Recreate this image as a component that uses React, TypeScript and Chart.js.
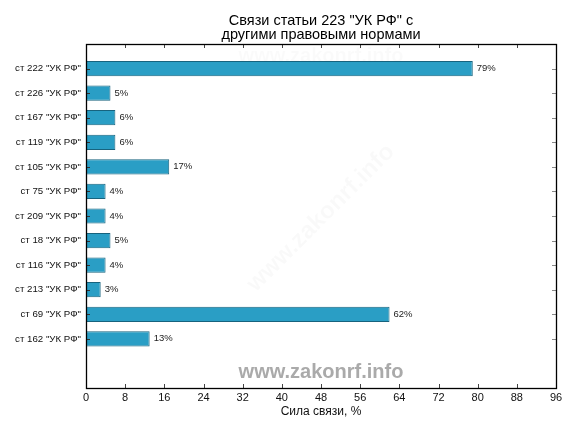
import React, { useEffect, useRef } from "react";
import { Chart, registerables } from "chart.js";

Chart.register(...registerables);

const titleLines = ['Связи статьи 223 "УК РФ" с', "другими правовыми нормами"];
const categories = [
  'ст 222 "УК РФ"',
  'ст 226 "УК РФ"',
  'ст 167 "УК РФ"',
  'ст 119 "УК РФ"',
  'ст 105 "УК РФ"',
  'ст 75 "УК РФ"',
  'ст 209 "УК РФ"',
  'ст 18 "УК РФ"',
  'ст 116 "УК РФ"',
  'ст 213 "УК РФ"',
  'ст 69 "УК РФ"',
  'ст 162 "УК РФ"',
];
const strengths = [79, 5, 6, 6, 17, 4, 4, 5, 4, 3, 62, 13];
const xMin = 0;
const xMax = 96;
const xStep = 8;
const xTitle = "Сила связи, %";
const watermark = "www.zakonrf.info";

const FONT = '"Liberation Sans", Arial, sans-serif';

export default function App() {
  const ref = useRef<HTMLCanvasElement | null>(null);

  useEffect(() => {
    document.body.style.margin = "0";
    const canvas = ref.current;
    if (!canvas) return;

    const labels = ["", ...categories, "", ""];
    const values: (number | null)[] = [null, ...strengths, null, null];

    const decor = {
      id: "decor",
      beforeDatasetsDraw(chart: any) {
        const { ctx, chartArea } = chart;
        const { left, right, top, bottom } = chartArea;
        const cx = (left + right) / 2;
        ctx.save();
        ctx.textAlign = "center";
        ctx.textBaseline = "middle";
        // faint top watermark
        ctx.font = `bold 20px ${FONT}`;
        ctx.fillStyle = "rgba(0,0,0,0.018)";
        ctx.fillText(watermark, cx, top + 12);
        // faint diagonal watermark
        ctx.save();
        ctx.translate(cx, (top + bottom) / 2 + 2);
        ctx.rotate(-Math.PI / 4);
        ctx.font = `bold 24px ${FONT}`;
        ctx.fillStyle = "rgba(0,0,0,0.022)";
        ctx.fillText(watermark, 0, 0);
        ctx.restore();
        // bottom watermark
        ctx.font = `bold 20px ${FONT}`;
        ctx.fillStyle = "#aaaaaa";
        ctx.fillText(watermark, cx, bottom - 16);
        ctx.restore();
      },
      afterDatasetsDraw(chart: any) {
        const { ctx, chartArea, scales } = chart;
        const { left, right, top, bottom } = chartArea;
        const xs = scales.x;
        const ys = scales.y;
        ctx.save();
        // value labels
        const meta = chart.getDatasetMeta(0);
        ctx.font = `9.5px ${FONT}`;
        ctx.fillStyle = "#222";
        ctx.textAlign = "left";
        ctx.textBaseline = "middle";
        meta.data.forEach((el: any, i: number) => {
          const v = values[i];
          if (v == null) return;
          ctx.fillText(`${v}%`, el.x + 4, el.y);
        });
        // tick marks (inward)
        ctx.lineWidth = 1;
        xs.ticks.forEach((t: any) => {
          const px = Math.round(xs.getPixelForValue(t.value)) + 0.5;
          ctx.strokeStyle = "#444";
          ctx.beginPath();
          ctx.moveTo(px, top);
          ctx.lineTo(px, top + 4);
          ctx.moveTo(px, bottom);
          ctx.lineTo(px, bottom - 4);
          ctx.stroke();
        });
        labels.forEach((lab, i) => {
          if (!lab) return;
          const py = Math.round(ys.getPixelForValue(i)) + 0.5;
          ctx.strokeStyle = "#333";
          ctx.beginPath();
          ctx.moveTo(left, py);
          ctx.lineTo(left + 4, py);
          ctx.stroke();
          ctx.strokeStyle = "#888";
          ctx.beginPath();
          ctx.moveTo(right, py);
          ctx.lineTo(right - 4, py);
          ctx.stroke();
        });
        // frame
        ctx.strokeStyle = "#000";
        ctx.lineWidth = 1.3;
        ctx.strokeRect(Math.round(left) + 0.5, Math.round(top) + 0.5, Math.round(right - left), Math.round(bottom - top));
        // title
        ctx.font = `14.5px ${FONT}`;
        ctx.fillStyle = "#000";
        ctx.textAlign = "center";
        ctx.textBaseline = "alphabetic";
        const cx = (left + right) / 2;
        ctx.fillText(titleLines[0], cx, 24.5);
        ctx.fillText(titleLines[1], cx, 39);
        ctx.restore();
      },
    };

    const chart = new Chart(canvas, {
      type: "bar",
      data: {
        labels,
        datasets: [
          {
            data: values,
            backgroundColor: "#2a9ec5",
            borderColor: "#17637e",
            borderWidth: 1,
            borderSkipped: false,
            barPercentage: 0.62,
            categoryPercentage: 1,
          },
        ],
      },
      options: {
        indexAxis: "y",
        responsive: false,
        animation: false,
        layout: { padding: { top: 44, right: 20, left: 0, bottom: 0 } },
        plugins: {
          legend: { display: false },
          tooltip: { enabled: false },
          title: { display: false },
        },
        scales: {
          x: {
            type: "linear",
            min: xMin,
            max: xMax,
            ticks: {
              stepSize: xStep,
              color: "#111",
              font: { family: FONT, size: 11 },
              padding: 3,
            },
            grid: { display: false, drawTicks: false },
            border: { display: false },
            title: {
              display: true,
              text: xTitle,
              color: "#111",
              font: { family: FONT, size: 12 },
              padding: { top: 0, bottom: 13 },
            },
            afterFit(scale: any) {
              scale.height = 44;
            },
          },
          y: {
            type: "category",
            offset: false,
            ticks: {
              autoSkip: false,
              color: "#111",
              font: { family: FONT, size: 9.7 },
              padding: 5,
            },
            grid: { display: false, drawTicks: false },
            border: { display: false },
            afterFit(scale: any) {
              scale.width = 86;
            },
          },
        },
      },
      plugins: [decor],
    });

    return () => chart.destroy();
  }, []);

  return (
    <div style={{ width: 576, height: 432 }}>
      <canvas ref={ref} width={576} height={432} />
    </div>
  );
}
